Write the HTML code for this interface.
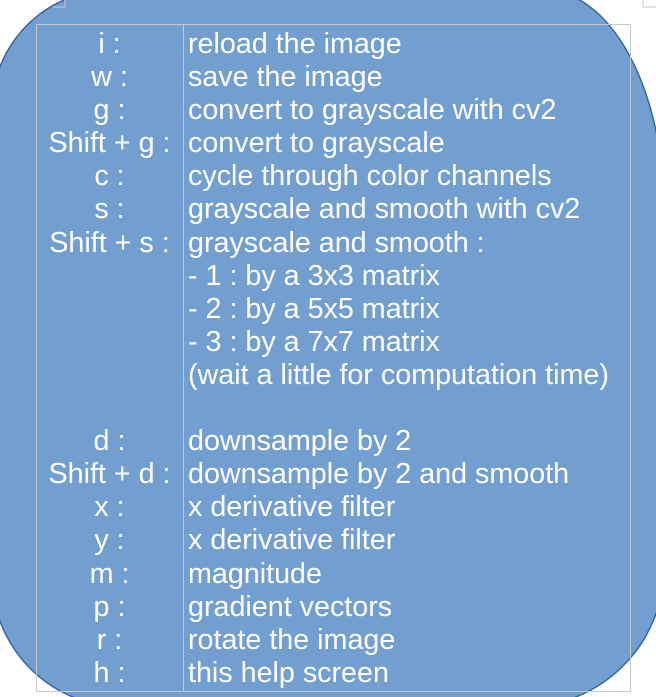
<!DOCTYPE html>
<html><head><meta charset="utf-8"><style>
html,body{margin:0;padding:0;width:656px;height:697px;overflow:hidden;background:#fff;}
svg{position:absolute;left:0;top:0;}
.t{position:absolute;left:36px;top:24px;width:595px;height:668px;border:1px solid #c8c8c8;box-sizing:border-box;}
.d{position:absolute;left:183px;top:24px;width:1px;height:668px;background:#c8c8c8;}
.col{position:absolute;top:28px;font-family:"Liberation Sans",sans-serif;font-size:28.7px;line-height:33.1px;color:#fff;white-space:pre;}
.l{left:36px;width:147px;text-align:center;}
.r{left:188px;}
</style></head><body>
<svg width="656" height="697">
<path d="M 112 -10 L 544 -10 A 120 220 0 0 1 664 210 L 664 567 A 140 140 0 0 1 524 707 L 123 707 A 131 131 0 0 1 -8 576 L -8 112 A 120 120 0 0 1 112 -10 Z" fill="#729fcf" stroke="#3465a4" stroke-width="1.5"/>
<path d="M53 7 H65 V0" fill="none" stroke="#c8c8c8"/>
<path d="M643 0 V7 H656" fill="none" stroke="#c8c8c8"/>
</svg>
<div class="t"></div><div class="d"></div>
<div class="col l">i :
w :
g :
Shift + g :
c :
s :
Shift + s :




 
d :
Shift + d :
x :
y :
m :
p :
r :
h :</div>
<div class="col r">reload the image
save the image
convert to grayscale with cv2
convert to grayscale
cycle through color channels
grayscale and smooth with cv2
grayscale and smooth :
- 1 : by a 3x3 matrix
- 2 : by a 5x5 matrix
- 3 : by a 7x7 matrix
(wait a little for computation time)

downsample by 2
downsample by 2 and smooth
x derivative filter
x derivative filter
magnitude
gradient vectors
rotate the image
this help screen</div>
</body></html>
